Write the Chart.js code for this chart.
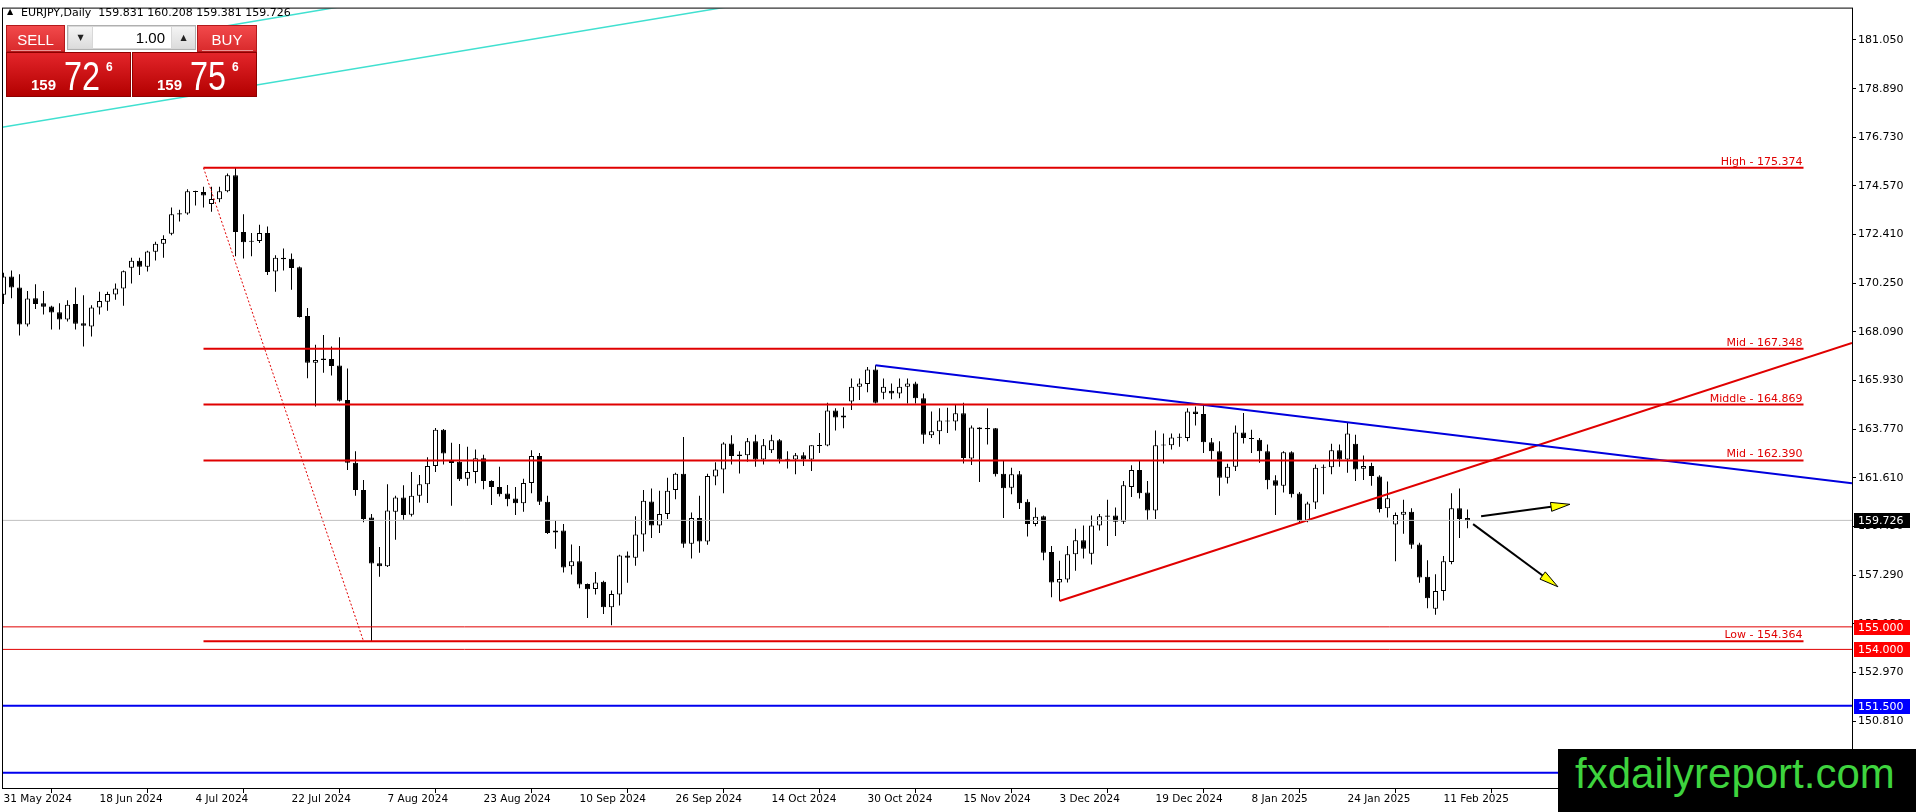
<!DOCTYPE html>
<html>
<head>
<meta charset="utf-8">
<title>EURJPY, Daily</title>
<script src="https://cdn.jsdelivr.net/npm/chart.js@4.4.1/dist/chart.umd.min.js"></script>
<style>
  html, body { margin: 0; padding: 0; background: #fff; overflow: hidden; }
  #wrap { position: relative; width: 1916px; height: 812px; }
  #chart { position: absolute; left: 0; top: 0; }
  .hdr { position: absolute; left: 21px; top: 6px; font: 11px "DejaVu Sans"; color: #000; white-space: pre; line-height: 13px; }
  .tri { position: absolute; left: 7px; top: 8px; font: 8px "DejaVu Sans"; line-height: 8px; color: #000; }
  #panel div, #panel span { position: absolute; box-sizing: border-box; }
  .tbtn { top: 25px; height: 27px; color: #fff; font: 15px "Liberation Sans"; text-align: center; line-height: 27px;
          background: linear-gradient(#f2494b, #d92a2c); border: 1px solid #b31a1c; }
  .tbtn::after { content: ""; position: absolute; left: 4px; right: 3px; bottom: 0px; height: 1px; background: rgba(255,255,255,0.5); }
  .spin { left: 67px; top: 25px; width: 129px; height: 25px; background: #d8d8d8; border: 1px solid #b0b0b0; }
  .spin .b { top: 1px; width: 23px; height: 21px; background: linear-gradient(#f4f4f4, #dcdcdc); font: 8px "DejaVu Sans"; line-height: 21px; text-align: center; color: #222; }
  .spin .f { top: 1px; left: 25px; width: 78px; height: 21px; background: #fff; font: 15px "Liberation Sans"; line-height: 21px; text-align: right; padding-right: 6px; color: #000; }
  .quote { top: 52px; width: 125px; height: 45px; background: linear-gradient(#e3252a, #b30000); border: 1px solid #8e0000; color: #fff; }
  .quote .s { top: 24px; font: bold 15px "Liberation Sans"; line-height: 15px; }
  .quote .l { top: 3px; font: 40px "Liberation Sans"; line-height: 40px; transform: scaleX(0.81); transform-origin: 0 0; }
  .quote .p { top: 8px; font: bold 12px "Liberation Sans"; line-height: 12px; }
  #mark { position: absolute; left: 1558px; top: 749px; width: 358px; height: 63px; background: #000; overflow: hidden; }
  #mark span { position: absolute; left: 17px; top: 4px; font: 42px "Liberation Sans"; line-height: 42px; color: #3ed43e; white-space: nowrap; }
</style>
</head>
<body>
<div id="wrap">
  <canvas id="chart" width="1916" height="812"></canvas>
  <div class="tri">&#9650;</div>
  <div class="hdr">EURJPY,Daily  159.831 160.208 159.381 159.726</div>
  <div id="panel">
    <div class="tbtn" style="left:6px;width:59px;">SELL</div>
    <div class="spin">
      <div class="b" style="left:1px;">&#9660;</div>
      <div class="f">1.00</div>
      <div class="b" style="left:104px;">&#9650;</div>
    </div>
    <div class="tbtn" style="left:197px;width:60px;">BUY</div>
    <div class="quote" style="left:6px;">
      <span class="s" style="left:24px;">159</span><span class="l" style="left:57px;">72</span><span class="p" style="left:99px;">6</span>
    </div>
    <div class="quote" style="left:132px;">
      <span class="s" style="left:24px;">159</span><span class="l" style="left:57px;">75</span><span class="p" style="left:99px;">6</span>
    </div>
  </div>
  <div id="mark"><span>fxdailyreport.com</span></div>
</div>
<script>
// EURJPY daily candles, bar 0 = 31 May 2024
const tickLabels = ['31 May 2024', '18 Jun 2024', '4 Jul 2024', '22 Jul 2024', '7 Aug 2024', '23 Aug 2024',
  '10 Sep 2024', '26 Sep 2024', '14 Oct 2024', '30 Oct 2024', '15 Nov 2024', '3 Dec 2024',
  '19 Dec 2024', '8 Jan 2025', '24 Jan 2025', '11 Feb 2025'];
const tickBars = [0, 12, 24, 36, 48, 60, 72, 84, 96, 108, 120, 132, 144, 156, 168, 180];
const priceTicks = [181.050, 178.890, 176.730, 174.570, 172.410, 170.250, 168.090, 165.930,
  163.770, 161.610, 159.450, 157.290, 155.130, 152.970, 150.810];

const opens = [
  169.74, 170.55, 170.06, 168.42, 169.59, 169.37, 169.22, 168.96, 168.64, 169.33,
  168.48, 168.33, 169.18, 169.43, 169.75, 170.02, 170.94, 171.25, 170.99, 171.65,
  172.00, 172.45, 173.36, 173.35, 174.34, 174.30, 173.77, 173.98, 174.34, 175.05,
  172.53, 172.13, 172.13, 172.48, 170.77, 171.38, 171.34, 170.96, 168.80, 166.72,
  166.91, 166.89, 166.60, 165.07, 162.29, 161.08, 159.86, 157.82, 157.69, 160.11,
  160.74, 159.98, 160.82, 161.33, 162.14, 163.75, 162.36, 162.33, 161.58, 161.87,
  162.49, 161.48, 161.21, 160.92, 160.70, 160.49, 161.39, 162.58, 160.55, 159.19,
  159.28, 157.69, 157.91, 156.90, 156.68, 157.00, 155.87, 156.44, 158.17, 158.07,
  159.10, 160.57, 159.50, 160.01, 161.08, 161.80, 158.69, 159.83, 158.79, 161.67,
  161.99, 163.14, 162.65, 162.62, 163.24, 162.43, 162.84, 163.28, 162.46, 162.43,
  162.62, 162.43, 163.07, 163.05, 164.60, 164.29, 165.00, 165.66, 165.78, 166.42,
  165.39, 165.48, 165.36, 165.66, 165.80, 165.15, 163.50, 163.68, 164.16, 164.12,
  164.48, 162.47, 163.85, 163.83, 163.82, 161.80, 161.18, 161.77, 160.55, 159.57,
  159.91, 158.32, 156.97, 157.10, 158.22, 158.84, 158.25, 159.50, 159.94, 159.94,
  159.67, 161.21, 161.96, 160.96, 160.16, 163.09, 163.06, 163.43, 163.38, 164.56,
  164.45, 163.19, 162.80, 161.62, 162.11, 163.63, 163.38, 163.31, 162.80, 161.51,
  161.26, 162.75, 160.92, 159.69, 160.52, 162.06, 162.09, 162.84, 162.43, 163.13,
  162.02, 162.14, 161.67, 160.26, 159.54, 159.98, 160.11, 158.66, 157.22, 155.80,
  156.59, 157.88, 160.26, 159.831];
const highs = [
  170.72, 170.82, 170.65, 169.91, 170.21, 169.91, 169.25, 169.37, 169.50, 170.06,
  169.72, 169.28, 169.87, 169.87, 170.24, 170.82, 171.38, 171.38, 171.70, 172.09,
  172.38, 173.61, 173.51, 174.43, 174.36, 174.54, 174.54, 174.54, 175.12, 175.374,
  173.32, 172.48, 172.85, 172.77, 171.50, 171.79, 171.57, 171.00, 169.15, 167.52,
  167.96, 167.45, 167.86, 166.47, 162.80, 161.52, 160.01, 158.54, 161.33, 160.82,
  161.29, 161.87, 161.74, 162.53, 163.83, 163.78, 163.17, 163.12, 162.99, 162.87,
  162.64, 161.51, 162.11, 161.30, 161.21, 161.58, 162.84, 162.72, 160.82, 159.72,
  159.57, 158.66, 158.59, 156.93, 157.44, 157.05, 156.61, 158.20, 158.35, 159.91,
  161.08, 161.14, 161.04, 161.62, 161.84, 163.43, 160.08, 160.82, 161.80, 162.31,
  163.19, 163.50, 162.80, 163.38, 163.53, 163.34, 163.53, 163.34, 162.80, 162.72,
  162.75, 163.06, 163.60, 164.95, 164.70, 164.75, 166.02, 166.02, 166.54, 166.61,
  166.02, 165.80, 166.02, 166.02, 165.88, 165.36, 164.56, 164.70, 164.73, 164.85,
  164.95, 163.94, 163.86, 164.70, 163.83, 162.36, 162.06, 161.92, 160.67, 160.30,
  159.94, 158.59, 157.93, 158.59, 159.35, 159.50, 159.94, 160.01, 160.64, 160.30,
  161.48, 162.17, 162.36, 161.48, 163.72, 163.58, 163.58, 163.58, 164.70, 164.78,
  164.85, 163.38, 163.24, 162.24, 163.94, 164.49, 163.75, 163.38, 163.09, 161.73,
  162.80, 162.80, 160.99, 160.55, 162.21, 162.21, 163.13, 163.09, 164.05, 163.53,
  162.61, 162.28, 161.73, 161.45, 160.08, 160.64, 160.26, 158.73, 157.96, 157.34,
  158.15, 160.93, 161.14, 160.208];
const lows = [
  169.33, 169.59, 167.93, 168.33, 169.11, 168.86, 168.20, 168.20, 168.55, 168.20,
  167.45, 167.89, 168.86, 169.03, 169.52, 169.25, 170.24, 170.62, 170.77, 171.26,
  171.38, 172.38, 172.99, 173.29, 173.70, 173.61, 173.43, 173.85, 174.29, 171.45,
  171.35, 171.45, 172.04, 170.62, 169.87, 170.82, 169.96, 168.73, 166.03, 164.78,
  166.28, 166.16, 165.00, 161.96, 160.82, 159.64, 154.364, 157.22, 157.66, 158.87,
  159.76, 159.90, 160.52, 160.50, 161.87, 162.21, 160.38, 161.48, 161.26, 161.38,
  161.11, 160.41, 160.79, 160.35, 159.97, 160.11, 160.93, 160.41, 159.12, 158.47,
  157.41, 157.33, 156.71, 155.39, 156.44, 155.57, 155.07, 155.95, 156.96, 157.71,
  158.35, 158.95, 159.17, 159.79, 160.67, 158.51, 158.03, 158.29, 158.65, 161.29,
  160.93, 162.21, 161.81, 162.33, 162.11, 162.21, 162.72, 162.25, 162.03, 161.77,
  162.14, 161.92, 162.72, 163.02, 163.72, 163.82, 164.63, 165.07, 165.41, 164.92,
  165.10, 165.10, 165.15, 164.92, 164.92, 163.13, 163.38, 163.11, 163.60, 163.72,
  162.25, 162.18, 161.43, 163.09, 161.67, 159.83, 160.89, 160.23, 159.01, 159.47,
  157.96, 156.31, 156.15, 156.97, 157.49, 158.03, 157.77, 159.28, 158.59, 159.03,
  159.57, 160.77, 160.70, 159.75, 159.79, 162.25, 162.87, 162.99, 163.24, 163.94,
  162.72, 162.43, 160.82, 161.36, 161.92, 163.14, 162.72, 162.28, 161.11, 159.97,
  160.96, 160.74, 159.64, 159.64, 160.23, 160.89, 161.77, 162.11, 161.84, 161.48,
  161.52, 161.26, 160.08, 159.86, 157.91, 159.13, 158.47, 156.96, 155.83, 155.54,
  156.17, 157.78, 158.94, 159.381];
const closes = [
  170.55, 170.06, 168.42, 169.58, 169.33, 169.21, 168.95, 168.64, 169.30, 168.46,
  168.37, 169.18, 169.46, 169.77, 170.02, 170.78, 171.25, 170.99, 171.66, 172.00,
  172.22, 173.32, 173.30, 174.34, 174.30, 174.15, 173.99, 174.34, 175.05, 172.53,
  172.07, 172.09, 172.48, 170.75, 171.38, 171.32, 170.93, 168.75, 166.72, 166.85,
  166.85, 166.58, 165.04, 162.29, 161.07, 159.79, 157.81, 157.69, 160.16, 160.74,
  159.97, 160.82, 161.33, 162.14, 163.75, 162.70, 162.27, 161.55, 161.87, 162.49,
  161.48, 161.21, 160.89, 160.67, 160.49, 161.39, 162.58, 160.55, 159.17, 159.28,
  157.63, 157.91, 156.88, 156.67, 156.97, 155.87, 156.46, 158.17, 158.07, 159.10,
  160.60, 159.50, 160.01, 161.04, 161.80, 158.69, 159.83, 158.79, 161.70, 161.99,
  163.14, 162.58, 162.58, 163.24, 162.43, 163.06, 163.28, 162.43, 162.42, 162.62,
  162.43, 163.06, 163.03, 164.60, 164.29, 164.38, 165.66, 165.80, 166.42, 164.95,
  165.66, 165.36, 165.66, 165.80, 165.15, 163.53, 163.68, 164.16, 164.12, 164.48,
  162.50, 163.85, 163.77, 163.77, 161.77, 161.15, 161.77, 160.49, 159.57, 159.89,
  158.29, 156.97, 157.12, 158.22, 158.84, 158.47, 159.50, 159.91, 159.89, 159.67,
  161.29, 161.96, 160.93, 160.16, 163.06, 163.05, 163.41, 163.39, 164.56, 164.45,
  163.19, 162.80, 161.62, 162.11, 163.63, 163.38, 163.34, 162.80, 161.51, 161.26,
  162.75, 160.89, 159.69, 160.48, 162.06, 162.11, 162.84, 162.43, 163.58, 161.99,
  162.14, 161.70, 160.23, 160.71, 159.97, 160.11, 158.65, 157.19, 156.27, 156.59,
  157.91, 160.26, 159.79, 159.726];

// drawn objects, in [bar, price]
const fiboLevels = [175.374, 167.348, 164.869, 162.390, 154.364];
const fiboNames = ['High', 'Mid', 'Middle', 'Mid', 'Low'];
const fiboFrom = 25, fiboTo = 225;
const fiboDiag = [[25, 175.374], [45, 154.364]];
const redLevels = [155.000, 154.000];
const blueLevels = [151.500, 148.520];
const lastPrice = 159.726;
const trendBlue = [[109, 166.61], [231.06, 161.38]];
const trendRed = [[132, 156.15], [231.06, 167.60]];
const cyanLong = [[-0.19, 177.18], [92, 182.61]];
const cyanShort = [[25.4, 181.53], [42, 182.52]];
const arrowUp = [[184.7, 159.91], [195.8, 160.44]];
const arrowDown = [[183.7, 159.56], [194.3, 156.78]];
const tagPrices = [lastPrice, 155.000, 154.000, 151.500];
const tagColors = ['#000000', '#ff0000', '#ff0000', '#0000ff'];

const xMin = -0.1875, xMax = 231.0625;
const yMin = 147.848, yMax = 182.443;

function seg(pts, color, width, dash) {
  return {
    type: 'line',
    data: pts.map(p => ({ x: p[0], y: p[1] })),
    borderColor: color,
    borderWidth: width,
    borderDash: dash || [],
    pointRadius: 0,
    tension: 0,
    fill: false,
    order: 0
  };
}

const lineSets = [];
lineSets.push(seg([[xMin, lastPrice], [xMax, lastPrice]], '#c0c0c0', 1));
fiboLevels.forEach(v => lineSets.push(seg([[fiboFrom, v], [fiboTo, v]], '#e00000', 2)));
redLevels.forEach(v => lineSets.push(seg([[xMin, v], [xMax, v]], '#e00000', 1)));
blueLevels.forEach(v => lineSets.push(seg([[xMin, v], [xMax, v]], '#0000ee', 2)));
lineSets.push(seg(fiboDiag, '#e00000', 1, [2, 2]));
lineSets.push(seg(trendBlue, '#0000dd', 2));
lineSets.push(seg(trendRed, '#e00000', 2));
lineSets.push(seg(cyanLong, '#40e0d0', 1.5));
lineSets.push(seg(cyanShort, '#40e0d0', 1.5));

function drawArrow(ctx, x1, y1, x2, y2) {
  const a = Math.atan2(y2 - y1, x2 - x1);
  const len = 19, half = 4.5;
  const bx = x2 - len * Math.cos(a), by = y2 - len * Math.sin(a);
  ctx.strokeStyle = '#000';
  ctx.lineWidth = 2;
  ctx.beginPath(); ctx.moveTo(x1, y1); ctx.lineTo(bx, by); ctx.stroke();
  ctx.beginPath();
  ctx.moveTo(x2, y2);
  ctx.lineTo(bx + half * Math.sin(a), by - half * Math.cos(a));
  ctx.lineTo(bx - half * Math.sin(a), by + half * Math.cos(a));
  ctx.closePath();
  ctx.fillStyle = '#ffff00';
  ctx.fill();
  ctx.lineWidth = 1;
  ctx.stroke();
}

const overlay = {
  id: 'overlay',
  afterDatasetsDraw(chart) {
    const { ctx, chartArea: a, scales: { x, y } } = chart;
    ctx.save();
    // fibo level captions
    ctx.font = '11px "DejaVu Sans"';
    ctx.fillStyle = '#e00000';
    ctx.textAlign = 'right';
    ctx.textBaseline = 'alphabetic';
    fiboLevels.forEach((v, i) => {
      ctx.fillText(fiboNames[i] + ' - ' + v.toFixed(3), x.getPixelForValue(fiboTo) - 1, y.getPixelForValue(v) - 3);
    });
    [arrowUp, arrowDown].forEach(ar => drawArrow(ctx,
      x.getPixelForValue(ar[0][0]), y.getPixelForValue(ar[0][1]),
      x.getPixelForValue(ar[1][0]), y.getPixelForValue(ar[1][1])));
    // chart frame
    ctx.strokeStyle = '#000';
    ctx.lineWidth = 1;
    ctx.strokeRect(a.left + 0.5, a.top - 0.5, a.right - a.left, a.bottom - a.top + 1);
    ctx.restore();
  },
  afterDraw(chart) {
    const { ctx, chartArea: a, scales: { y } } = chart;
    ctx.save();
    ctx.font = '11px "DejaVu Sans"';
    ctx.textAlign = 'left';
    ctx.textBaseline = 'middle';
    tagPrices.forEach((p, i) => {
      const py = Math.round(y.getPixelForValue(p));
      ctx.fillStyle = tagColors[i];
      ctx.fillRect(a.right + 2, py - 7, 56, 15);
      ctx.fillStyle = '#fff';
      ctx.fillText(p.toFixed(3), a.right + 6, py + 1);
    });
    ctx.restore();
  }
};

const ctx = document.getElementById('chart').getContext('2d');
const chart = new Chart(ctx, {
  type: 'bar',
  data: {
    datasets: [
      {
        // candle bodies
        data: opens.map((o, i) => ({ x: i, y: [o, closes[i]] })),
        backgroundColor: opens.map((o, i) => closes[i] > o ? '#ffffff' : '#000000'),
        borderColor: '#000000',
        borderWidth: 1,
        borderSkipped: false,
        barThickness: 5,
        minBarLength: 1,
        inflateAmount: 0,
        grouped: false,
        order: 1
      },
      {
        // wicks
        data: lows.map((l, i) => ({ x: i, y: [l, highs[i]] })),
        backgroundColor: '#000000',
        borderWidth: 0,
        barThickness: 1,
        inflateAmount: 0,
        grouped: false,
        order: 2
      },
      ...lineSets
    ]
  },
  options: {
    responsive: false,
    devicePixelRatio: 1,
    animation: false,
    events: [],
    layout: { padding: { left: 2, top: 2, right: 0, bottom: 0 } },
    plugins: { legend: { display: false }, tooltip: { enabled: false } },
    scales: {
      x: {
        type: 'linear',
        min: xMin,
        max: xMax,
        bounds: 'data',
        offset: false,
        afterBuildTicks: s => { s.ticks = tickBars.map(v => ({ value: v })); },
        afterFit: s => { s.height = 24; },
        grid: { display: true, drawOnChartArea: false, drawTicks: true, tickLength: 5, color: '#000' },
        border: { display: true, color: '#000' },
        ticks: {
          autoSkip: false, maxRotation: 0, minRotation: 0, align: 'start', padding: 0,
          color: '#000', font: { family: 'DejaVu Sans', size: 10.5 },
          callback: (v, i) => tickLabels[i]
        }
      },
      y: {
        type: 'linear',
        position: 'right',
        min: yMin,
        max: yMax,
        bounds: 'data',
        afterBuildTicks: s => { s.ticks = priceTicks.map(v => ({ value: v })); },
        afterFit: s => { s.width = 64; },
        grid: { display: true, drawOnChartArea: false, drawTicks: true, tickLength: 4, color: '#000' },
        border: { display: true, color: '#000' },
        ticks: {
          padding: 2, color: '#000', font: { family: 'DejaVu Sans', size: 11 },
          callback: v => Number(v).toFixed(3)
        }
      }
    }
  },
  plugins: [overlay]
});
</script>
</body>
</html>
